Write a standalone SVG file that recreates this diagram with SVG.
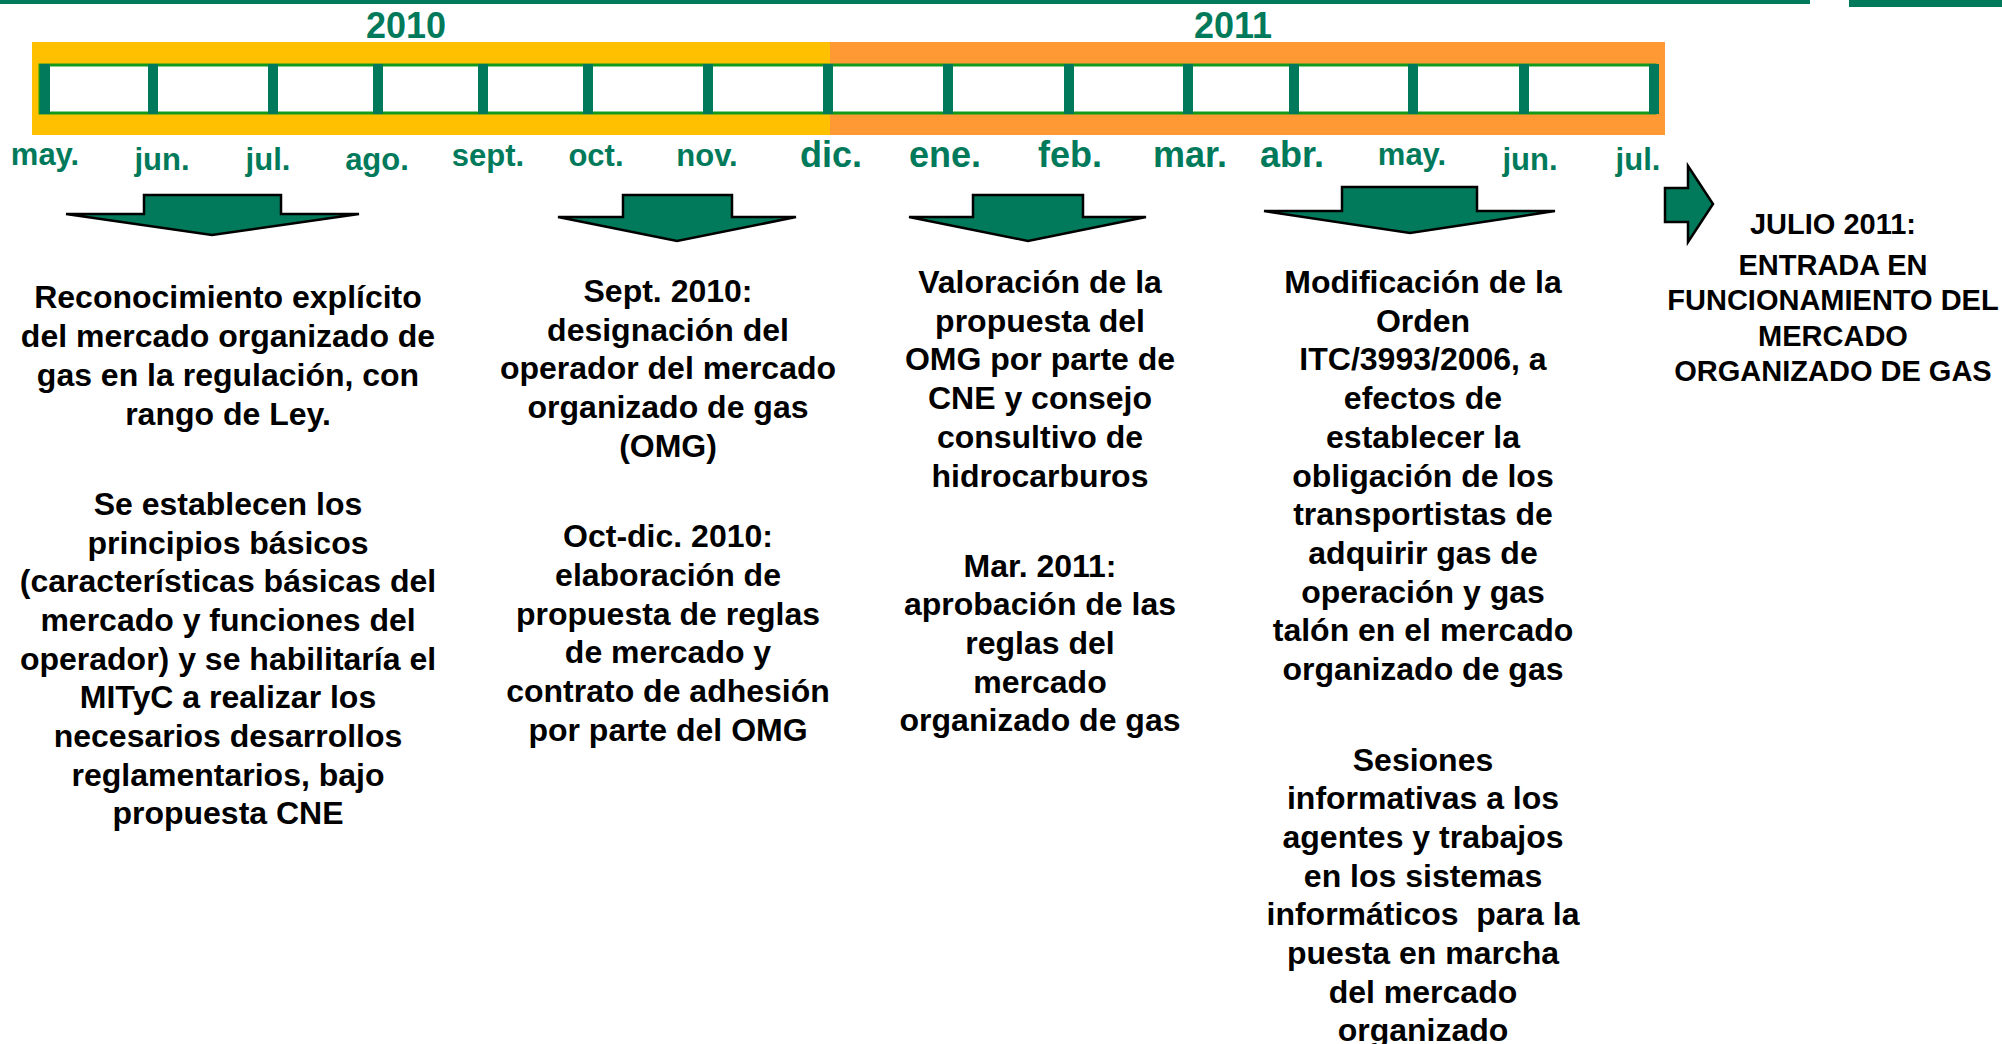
<svg xmlns="http://www.w3.org/2000/svg" width="2002" height="1044" viewBox="0 0 2002 1044">
<style>
.mo{font-family:"Liberation Sans",Arial,sans-serif;font-weight:bold;fill:#017A5B;text-anchor:middle}
.s{font-size:31px}
.l{font-size:36px}
.yr{font-family:"Liberation Sans",Arial,sans-serif;font-weight:bold;font-size:36px;fill:#017A5B;text-anchor:middle}
.tx{font-family:"Liberation Sans",Arial,sans-serif;font-weight:bold;font-size:32px;fill:#000;text-anchor:middle;white-space:pre}
.tx5{font-family:"Liberation Sans",Arial,sans-serif;font-weight:bold;font-size:29px;fill:#000;text-anchor:middle}
.tick{fill:#017A5B}
.arr{fill:#017A5B;stroke:#000;stroke-width:2.5;stroke-linejoin:miter}
</style>
<rect width="2002" height="1044" fill="#fff"/>
<g id="header">
<rect x="0" y="0" width="1810" height="4" fill="#017A5B"/>
<rect x="1849" y="0" width="153" height="7" fill="#017A5B"/>
</g>
<g id="timeline">
<rect x="32" y="42" width="798" height="93" fill="#FFC000"/>
<rect x="830" y="42" width="835" height="93" fill="#FF9933"/>
<rect x="40" y="65" width="1615" height="48" fill="#fff" stroke="#139A1A" stroke-width="3"/>
<rect class="tick" x="40" y="64" width="10" height="50"/>
<rect class="tick" x="148" y="64" width="10" height="50"/>
<rect class="tick" x="268" y="64" width="10" height="50"/>
<rect class="tick" x="373" y="64" width="10" height="50"/>
<rect class="tick" x="478" y="64" width="10" height="50"/>
<rect class="tick" x="583" y="64" width="10" height="50"/>
<rect class="tick" x="703" y="64" width="10" height="50"/>
<rect class="tick" x="823" y="64" width="10" height="50"/>
<rect class="tick" x="943" y="64" width="10" height="50"/>
<rect class="tick" x="1064" y="64" width="10" height="50"/>
<rect class="tick" x="1183" y="64" width="10" height="50"/>
<rect class="tick" x="1289" y="64" width="10" height="50"/>
<rect class="tick" x="1408" y="64" width="10" height="50"/>
<rect class="tick" x="1519" y="64" width="10" height="50"/>
<rect class="tick" x="1649" y="64" width="10" height="50"/>
<text class="yr" x="406" y="38">2010</text>
<text class="yr" x="1233" y="38">2011</text>
</g>
<g id="months">
<text class="mo s" x="45" y="165">may.</text>
<text class="mo s" x="162" y="170">jun.</text>
<text class="mo s" x="268" y="170">jul.</text>
<text class="mo s" x="377" y="170">ago.</text>
<text class="mo s" x="488" y="166">sept.</text>
<text class="mo s" x="596" y="166">oct.</text>
<text class="mo s" x="707" y="166">nov.</text>
<text class="mo l" x="831" y="167">dic.</text>
<text class="mo l" x="945" y="167">ene.</text>
<text class="mo l" x="1070" y="167">feb.</text>
<text class="mo l" x="1190" y="167">mar.</text>
<text class="mo l" x="1292" y="167">abr.</text>
<text class="mo s" x="1412" y="165">may.</text>
<text class="mo s" x="1530" y="170">jun.</text>
<text class="mo s" x="1638" y="170">jul.</text>
</g>
<g id="connectors">
<polygon class="arr" points="144,195 281,195 281,214 359,214 212,235 66,214 144,214"/>
<polygon class="arr" points="623,195 732,195 732,217 796,217 677,241 558,217 623,217"/>
<polygon class="arr" points="973,195 1083,195 1083,217 1146,217 1028,241 909,217 973,217"/>
<polygon class="arr" points="1342,187 1477,187 1477,211 1555,211 1410,233 1264,211 1342,211"/>
<polygon class="arr" points="1665,188 1688,188 1688,166 1713,204 1688,242 1688,222 1665,222"/>
</g>
<g id="node-ley">
<text class="tx" x="228" y="308">Reconocimiento explícito</text>
<text class="tx" x="228" y="347">del mercado organizado de</text>
<text class="tx" x="228" y="386">gas en la regulación, con</text>
<text class="tx" x="228" y="425">rango de Ley.</text>
<text class="tx" x="228" y="515">Se establecen los</text>
<text class="tx" x="228" y="554">principios básicos</text>
<text class="tx" x="228" y="592">(características básicas del</text>
<text class="tx" x="228" y="631">mercado y funciones del</text>
<text class="tx" x="228" y="670">operador) y se habilitaría el</text>
<text class="tx" x="228" y="708">MITyC a realizar los</text>
<text class="tx" x="228" y="747">necesarios desarrollos</text>
<text class="tx" x="228" y="786">reglamentarios, bajo</text>
<text class="tx" x="228" y="824">propuesta CNE</text>
</g>
<g id="node-omg">
<text class="tx" x="668" y="302">Sept. 2010:</text>
<text class="tx" x="668" y="341">designación del</text>
<text class="tx" x="668" y="379">operador del mercado</text>
<text class="tx" x="668" y="418">organizado de gas</text>
<text class="tx" x="668" y="457">(OMG)</text>
<text class="tx" x="668" y="547">Oct-dic. 2010:</text>
<text class="tx" x="668" y="586">elaboración de</text>
<text class="tx" x="668" y="625">propuesta de reglas</text>
<text class="tx" x="668" y="663">de mercado y</text>
<text class="tx" x="668" y="702">contrato de adhesión</text>
<text class="tx" x="668" y="741">por parte del OMG</text>
</g>
<g id="node-cne">
<text class="tx" x="1040" y="293">Valoración de la</text>
<text class="tx" x="1040" y="332">propuesta del</text>
<text class="tx" x="1040" y="370">OMG por parte de</text>
<text class="tx" x="1040" y="409">CNE y consejo</text>
<text class="tx" x="1040" y="448">consultivo de</text>
<text class="tx" x="1040" y="487">hidrocarburos</text>
<text class="tx" x="1040" y="577">Mar. 2011:</text>
<text class="tx" x="1040" y="615">aprobación de las</text>
<text class="tx" x="1040" y="654">reglas del</text>
<text class="tx" x="1040" y="693">mercado</text>
<text class="tx" x="1040" y="731">organizado de gas</text>
</g>
<g id="node-orden">
<text class="tx" x="1423" y="293">Modificación de la</text>
<text class="tx" x="1423" y="332">Orden</text>
<text class="tx" x="1423" y="370">ITC/3993/2006, a</text>
<text class="tx" x="1423" y="409">efectos de</text>
<text class="tx" x="1423" y="448">establecer la</text>
<text class="tx" x="1423" y="487">obligación de los</text>
<text class="tx" x="1423" y="525">transportistas de</text>
<text class="tx" x="1423" y="564">adquirir gas de</text>
<text class="tx" x="1423" y="603">operación y gas</text>
<text class="tx" x="1423" y="641">talón en el mercado</text>
<text class="tx" x="1423" y="680">organizado de gas</text>
<text class="tx" x="1423" y="771">Sesiones</text>
<text class="tx" x="1423" y="809">informativas a los</text>
<text class="tx" x="1423" y="848">agentes y trabajos</text>
<text class="tx" x="1423" y="887">en los sistemas</text>
<text class="tx" x="1423" y="925">informáticos  para la</text>
<text class="tx" x="1423" y="964">puesta en marcha</text>
<text class="tx" x="1423" y="1003">del mercado</text>
<text class="tx" x="1423" y="1041">organizado</text>
</g>
<g id="node-julio">
<text class="tx5" x="1833" y="234">JULIO 2011:</text>
<text class="tx5" x="1833" y="275">ENTRADA EN</text>
<text class="tx5" x="1833" y="310">FUNCIONAMIENTO DEL</text>
<text class="tx5" x="1833" y="346">MERCADO</text>
<text class="tx5" x="1833" y="381">ORGANIZADO DE GAS</text>
</g>
</svg>
